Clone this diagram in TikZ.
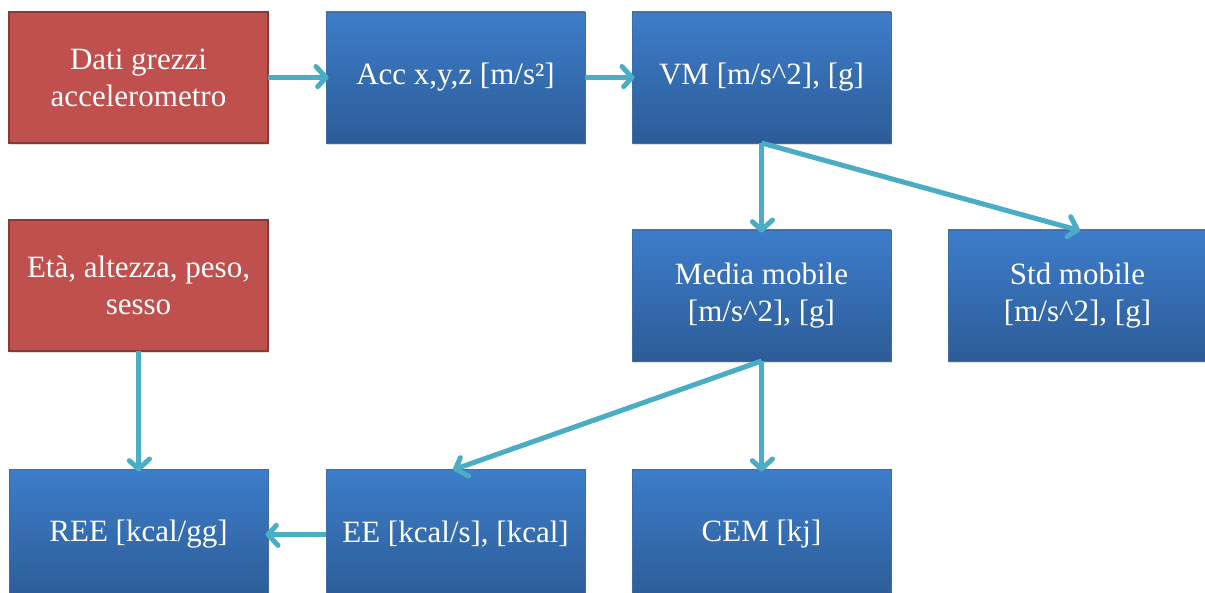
\documentclass[tikz,border=0pt]{standalone}
\usepackage{fontspec}
\setmainfont{Liberation Serif}
\usetikzlibrary{positioning}
\usetikzlibrary{decorations.markings}
\usetikzlibrary{shadows}
\definecolor{boxred}{HTML}{C0504D}
\definecolor{boxredline}{HTML}{8C3836}
\definecolor{boxbluetop}{HTML}{3D7DCA}
\definecolor{boxbluebot}{HTML}{2C5C97}
\definecolor{flow}{HTML}{4BACC6}
\tikzset{%
  flowarrow/.style = {line width=5pt,flow,shorten >=2.5pt,
        postaction={decorate},
        decoration={markings,mark=at position 1 with {
          \draw[line width=5pt,line join=round,line cap=round]
            (-10pt,11pt) -- (0pt,0pt) -- (-10pt,-11pt);}}},
  redbox/.style = {rectangle,draw=boxredline,line width=1.5pt,
        fill=boxred,text=white,align=center,outer sep=0pt,
        minimum width=259pt,minimum height=131pt,
        drop shadow={opacity=0.25,shadow xshift=1pt,shadow yshift=-2pt}},
  bluebox/.style = {rectangle,draw=boxbluebot!90!white,line width=0.6pt,
        top color=boxbluetop,bottom color=boxbluebot,text=white,
        align=center,outer sep=0pt,
        minimum width=259pt,minimum height=131pt,
        drop shadow={opacity=0.25,shadow xshift=1pt,shadow yshift=-2pt}}
}

\begin{document}
\begin{tikzpicture}[x=1pt,y=1pt,node distance=58pt and 58pt]
   \fontsize{31}{37}\selectfont
   \useasboundingbox (0,0) rectangle (1205,-593);

   \node[redbox] (raw) at (138.5,-77.5) {Dati grezzi\\accelerometro};
   \node[bluebox] (acc) [right=of raw] {Acc x,y,z [m/s²]};
   \node[bluebox] (vm) [right=47pt of acc] {VM [m/s\string^2], [g]};

   \node[bluebox] (media) [below=87pt of vm] {Media mobile\\{}[m/s\string^2], [g]};
   \node[bluebox] (std) [right=57pt of media] {Std mobile\\{}[m/s\string^2], [g]};
   \node[redbox] (info) [below=77pt of raw] {Età, altezza, peso,\\sesso};

   \node[bluebox] (cem) [below=108pt of media] {CEM [kj]};
   \node[bluebox] (ee) [left=47pt of cem] {EE [kcal/s], [kcal]};
   \node[bluebox] (ree) [left=of ee] {REE [kcal/gg]};

   \draw[flowarrow] (raw) -- (acc);
   \draw[flowarrow] (acc) -- (vm);
   \draw[flowarrow] (vm.south) -- (media.north);
   \draw[flowarrow] (vm.south) -- (std.north);
   \draw[flowarrow] (media.south) -- (ee.north);
   \draw[flowarrow] (media.south) -- (cem.north);
   \draw[flowarrow] (info) -- (ree);
   \draw[flowarrow] (ee) -- (ree);
\end{tikzpicture}
\end{document}
